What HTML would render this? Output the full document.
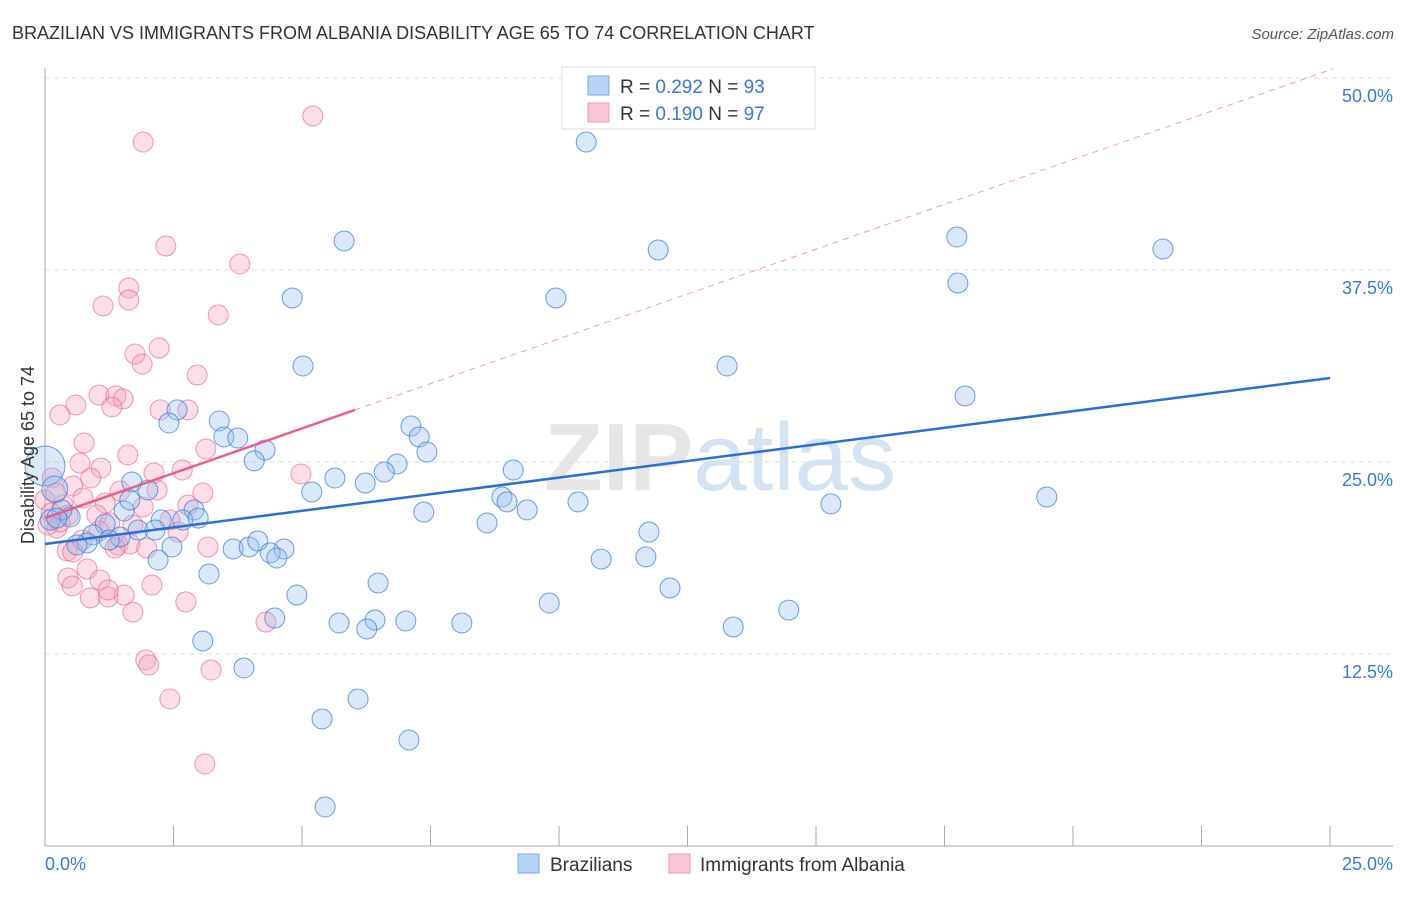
<!DOCTYPE html>
<html><head><meta charset="utf-8"><style>
body{margin:0;background:#fff;font-family:"Liberation Sans",sans-serif}
svg text{font-family:"Liberation Sans",sans-serif}
</style></head><body>
<svg id="chart" width="1406" height="892" xmlns="http://www.w3.org/2000/svg">
<text x="12" y="39" font-size="18" fill="#333">BRAZILIAN VS IMMIGRANTS FROM ALBANIA DISABILITY AGE 65 TO 74 CORRELATION CHART</text>
<text x="1394" y="39" font-size="15" fill="#555" font-style="italic" text-anchor="end">Source: ZipAtlas.com</text>
<text x="720" y="490" font-size="96" fill="#e6e6e6" text-anchor="middle" font-weight="bold">ZIP<tspan fill="#d4e3f3" font-weight="normal">atlas</tspan></text>
<g id="grid"></g><g id="axes"></g>
<g id="pinkPts"></g><g id="bluePts"></g><g id="lines"></g>
<text transform="translate(34,455) rotate(-90)" font-size="18" fill="#333" text-anchor="middle">Disability Age 65 to 74</text>
<text x="45" y="870" font-size="18" fill="#3b78d4">0.0%</text>
<text x="1393" y="870" font-size="18" fill="#3b78d4" text-anchor="end">25.0%</text>
<g>
<rect x="562" y="67" width="253" height="62" fill="#fff" stroke="#ddd"/>
<rect x="588" y="76" width="21" height="19" fill="#b8d3f5" stroke="#7aaae6"/>
<rect x="588" y="103" width="21" height="19" fill="#f9c6d5" stroke="#ee9ab3"/>
<text x="620" y="93" font-size="19" fill="#333">R = <tspan fill="#3b78d4">0.292</tspan>   N = <tspan fill="#3b78d4">93</tspan></text>
<text x="620" y="120" font-size="19" fill="#333">R = <tspan fill="#3b78d4"> 0.190</tspan>   N = <tspan fill="#3b78d4">97</tspan></text>
</g>
<g>
<rect x="518" y="854" width="21" height="19" fill="#b8d3f5" stroke="#7aaae6"/>
<text x="550" y="871" font-size="19" fill="#333">Brazilians</text>
<rect x="669" y="854" width="21" height="19" fill="#f9c6d5" stroke="#ee9ab3"/>
<text x="700" y="871" font-size="19" fill="#333">Immigrants from Albania</text>
</g>
</svg>
<script>
const yTicks=[12.5,25,37.5,50];
const yTickLabels=["12.5%","25.0%","37.5%","50.0%"];
const xTicks=[0,2.5,5,7.5,10,12.5,15,17.5,20,22.5,25];
const blueX=[10.53,5.82,11.93,17.74,21.75,4.81,9.94,17.76,5.02,13.27,17.90,2.57,2.41,3.39,3.48,3.75,7.12,7.28,7.43,4.28,4.07,6.85,6.60,9.11,5.64,6.23,5.19,8.89,8.99,9.38,10.37,15.29,19.49,7.37,8.60,11.75,1.69,2.00,2.90,2.68,2.98,2.26,1.54,1.17,1.81,2.14,1.65,0.49,0.33,0.93,0.82,1.46,1.25,0.62,2.47,2.20,3.66,3.97,4.14,4.65,4.38,4.51,10.82,11.69,3.19,6.48,12.16,4.90,9.81,14.47,5.72,6.42,6.26,7.02,8.11,4.47,13.39,3.07,3.87,6.09,5.39,7.08,5.45,0,0.19,0.10,0.23];
const blueY=[45.83,39.39,38.80,39.65,38.87,35.68,35.68,36.65,31.25,31.25,29.30,28.39,27.54,27.67,26.63,26.56,27.34,26.63,25.65,25.78,25.07,24.87,24.35,24.48,23.96,23.63,23.05,22.72,22.40,21.88,22.40,22.27,22.72,21.74,21.03,20.44,23.70,23.18,21.88,21.22,21.35,21.22,21.81,20.96,20.57,20.57,22.53,21.42,21.88,20.25,19.73,20.12,19.92,19.60,19.47,18.62,19.34,19.47,19.86,19.34,19.08,18.75,18.68,18.82,17.71,17.12,16.80,16.34,15.82,15.36,14.52,14.71,14.13,14.65,14.52,14.84,14.26,13.35,11.59,9.57,8.27,6.90,2.54,24.74,23.24,21.22,21.35];
const pinkX=[5.21,1.91,2.35,3.79,1.63,1.63,1.13,3.37,1.75,2.22,1.89,2.96,1.05,1.38,1.52,1.30,0.60,0.29,2.24,2.78,0.76,3.13,1.61,0.68,1.09,2.12,2.67,4.98,0.89,0.14,0.54,1.46,3.07,2.18,0.74,0.35,0,1.17,1.91,2.78,0.12,0.45,0.23,1.01,1.26,1.71,2.43,2.59,0.72,1.05,1.42,1.65,1.98,3.17,0.43,0.54,0.82,0.45,1.07,0.53,0.88,1.23,1.54,2.74,1.71,2.08,4.30,1.96,2.02,3.23,2.43,3.11,1.23,0.29,0.06,0.21,1.36];
const pinkY=[47.53,45.83,39.06,37.89,36.33,35.55,35.16,34.57,32.03,32.42,31.38,30.66,29.36,29.30,29.10,28.58,28.71,28.06,28.39,28.39,26.24,25.85,25.46,24.93,24.61,24.28,24.48,24.22,23.96,23.96,23.44,23.11,22.98,23.18,22.66,22.20,22.53,22.33,22.07,22.20,21.68,21.55,20.70,21.55,21.03,20.90,21.22,20.44,19.92,20.51,19.60,19.66,19.40,19.47,19.21,19.14,18.03,17.45,17.32,16.93,16.15,16.21,16.34,15.89,15.23,16.99,14.58,12.11,11.78,11.46,9.57,5.34,16.67,21.09,20.90,22.98,19.40];
const blueTrend=[19.66,30.47];
const pinkTrend=[21.35,1.167];
const NS="http://www.w3.org/2000/svg";
const sx=v=>45+v*(1285/25);
const sy=v=>846-v*15.36;
function mk(tag,attrs,parent){const e=document.createElementNS(NS,tag);for(const k in attrs)e.setAttribute(k,attrs[k]);document.getElementById(parent).appendChild(e);return e;}
yTicks.forEach((t,i)=>{
 const g=mk('line',{x1:45,x2:1393,y1:sy(t),y2:sy(t),stroke:'#ddd','stroke-dasharray':'5,4'},'grid');
 
 
 const tx=mk('text',{x:1393,y:sy(t)+24,'font-size':18,fill:'#3b78d4','text-anchor':'end'},'grid');
 tx.textContent=yTickLabels[i];
 
 
});
const ax=mk('line',{x1:45,x2:1393,y1:846,y2:846,stroke:'#aaa'},'axes');


const ay=mk('line',{x1:45,x2:45,y1:68,y2:846,stroke:'#aaa'},'axes');


xTicks.forEach(t=>{
 const l=mk('line',{x1:sx(t),x2:sx(t),y1:826,y2:846,stroke:'#aaa'},'axes');
 
 
});
pinkX.forEach((x,i)=>{
 const c=mk('circle',{cx:sx(x),cy:sy(pinkY[i]),r:10,fill:'rgba(244,160,186,0.35)',stroke:'rgba(232,110,150,0.7)','stroke-width':1},'pinkPts');
 
 
});
blueX.forEach((x,i)=>{
 const r=i===blueX.length-4?20:(i===blueX.length-3?13:10);
 const c=mk('circle',{cx:sx(x),cy:sy(blueY[i]),r:r,fill:'rgba(150,190,240,0.35)',stroke:'rgba(50,120,210,0.7)','stroke-width':1},'bluePts');
 
 
});
const bl=mk('line',{x1:sx(0),y1:sy(blueTrend[0]),x2:sx(25),y2:sy(blueTrend[1]),stroke:'#2a6fd6','stroke-width':2.5},'lines');


const xEnd=(50.6-pinkTrend[0])/pinkTrend[1];
const pd=mk('line',{x1:sx(6.03),y1:sy(pinkTrend[0]+pinkTrend[1]*6.03),x2:sx(xEnd),y2:sy(50.6),stroke:'#eaa0b8','stroke-width':1,'stroke-dasharray':'6,5'},'lines');


const pl=mk('line',{x1:sx(0),y1:sy(pinkTrend[0]),x2:sx(6.03),y2:sy(pinkTrend[0]+pinkTrend[1]*6.03),stroke:'#e8608a','stroke-width':2.5},'lines');


</script>
</body></html>
